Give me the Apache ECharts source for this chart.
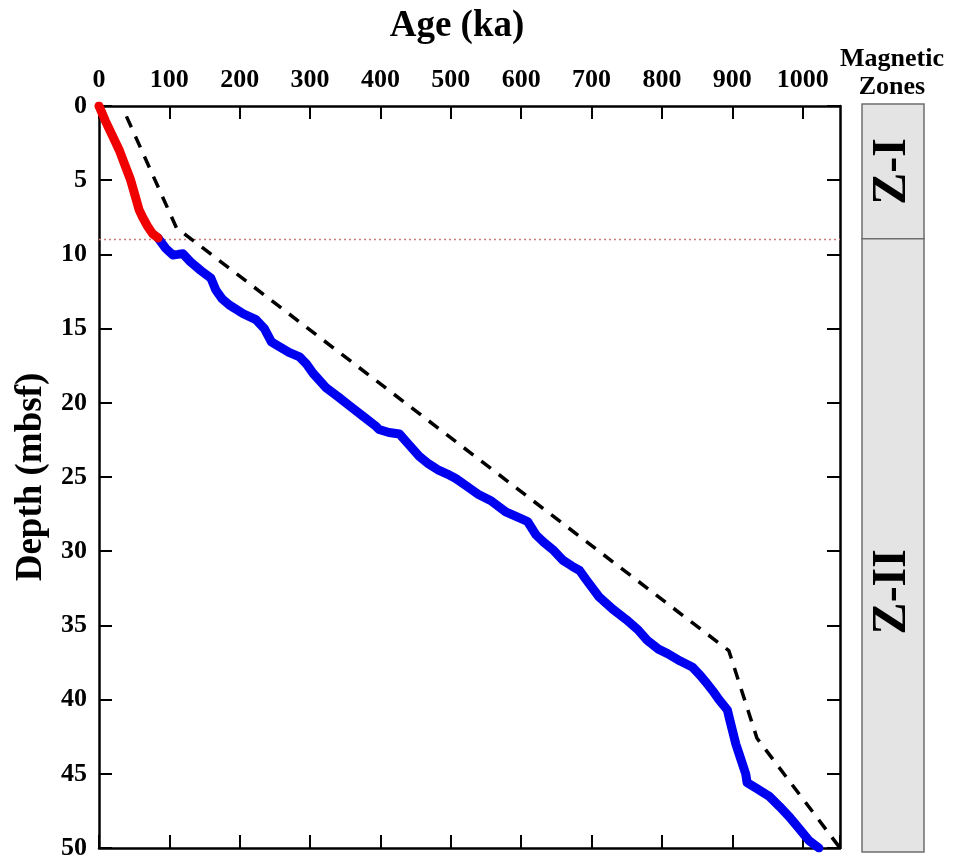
<!DOCTYPE html>
<html>
<head>
<meta charset="utf-8">
<script src="https://cdn.jsdelivr.net/npm/echarts@6/dist/echarts.min.js"></script>
<style>
  html, body { margin: 0; padding: 0; background: #fff; }
  #chart { width: 956px; height: 867px; }
</style>
</head>
<body>
<div id="chart"></div>
<script>
// upper part of the age model (zone Z-I)
const redAge = [0, 9, 19, 29, 37, 45, 51, 57, 62, 69, 76, 84]
const redDepth = [0, 1, 2, 3, 4, 5, 6, 7, 7.5, 8.1, 8.6, 8.9]

// lower part (zone Z-II)
const blueAge = [84, 86, 95, 105, 112, 119, 130, 145, 159, 166, 175, 185, 205, 223, 235, 245, 252, 270, 285, 295,
  304, 323, 340, 356, 375, 394, 398, 412, 427, 440, 455, 468, 481, 495, 507, 522, 540, 557, 578, 595,
  609, 621, 632, 645, 659, 672, 683, 692, 711, 730, 749, 766, 779, 795, 808, 826, 843, 855, 862, 872,
  881, 893, 896, 900, 905, 912, 919, 921, 935, 952, 967, 981, 995, 1009, 1023]
const blueDepth = [8.9, 9.03, 9.6, 10.04, 10.0, 9.95, 10.5, 11.1, 11.6, 12.4, 13.0, 13.4, 14.0, 14.4, 15.0, 15.9, 16.1, 16.6, 16.9, 17.4,
  18.0, 19.0, 19.6, 20.2, 20.9, 21.6, 21.8, 22.0, 22.1, 22.8, 23.6, 24.1, 24.5, 24.8, 25.1, 25.6, 26.2, 26.6, 27.35, 27.7,
  28.0, 28.9, 29.4, 29.9, 30.6, 31.0, 31.3, 31.9, 33.1, 33.9, 34.6, 35.3, 36.0, 36.6, 36.9, 37.4, 37.8, 38.4, 38.8, 39.4,
  40.0, 40.7, 41.3, 42.05, 43.0, 44.0, 45.0, 45.6, 46.0, 46.5, 47.2, 47.9, 48.7, 49.5, 50.0]

// dashed reference line
const dashAge = [39, 110, 895, 935, 1053]
const dashDepth = [0.7, 8.2, 36.7, 42.6, 50]

// zone boundary
const boundaryDepth = 9

// magnetic zones column
const zoneNames = ['Z-I', 'Z-II']
const zoneTop = [0, 9]
const zoneBottom = [9, 50]
const zoneLabelDepth = [4.5, 32.6]

const ageMax = 1053
const depthMax = 50

const pairs = (xs, ys) => xs.map((x, i) => [x, ys[i]])

const font = 'Liberation Serif'
const myChart = echarts.init(document.getElementById('chart'))

const axisLine = { onZero: false, lineStyle: { color: '#000', width: 2.5 } }
const axisTick = { inside: true, length: 13, lineStyle: { color: '#000', width: 2 } }
const tickLabel = { fontFamily: font, fontWeight: 'bold', fontSize: 26, color: '#000' }

let option = {
  animation: false,
  title: [
    {
      text: 'Age (ka)', left: 452, top: 3, textAlign: 'center',
      textStyle: { fontFamily: font, fontWeight: 'bold', fontSize: 37, color: '#000' }
    },
    {
      text: 'Magnetic\nZones', left: 887, top: 40, textAlign: 'center',
      textStyle: { fontFamily: font, fontWeight: 'bold', fontSize: 26, lineHeight: 28, color: '#000' }
    }
  ],
  grid: [
    { left: 99, top: 106, width: 741, height: 742 },
    { left: 862, top: 104, width: 62, height: 748 }
  ],
  xAxis: [
    {
      gridIndex: 0, type: 'value', position: 'top', min: 0, max: ageMax, interval: 100,
      axisLine: axisLine, axisTick: axisTick, splitLine: { show: false },
      axisLabel: Object.assign({ margin: 13, showMaxLabel: false,
        formatter: v => (v % 100 === 0 ? v : '') }, tickLabel)
    },
    {
      gridIndex: 0, type: 'value', position: 'bottom', min: 0, max: ageMax, interval: 100,
      axisLine: axisLine, axisTick: axisTick, splitLine: { show: false },
      axisLabel: { show: false }
    },
    { gridIndex: 1, type: 'value', min: 0, max: 1, show: false }
  ],
  yAxis: [
    {
      gridIndex: 0, type: 'value', inverse: true, min: 0, max: depthMax, interval: 5,
      axisLine: axisLine, axisTick: axisTick, splitLine: { show: false },
      axisLabel: Object.assign({ margin: 12 }, tickLabel),
      name: 'Depth (mbsf)', nameLocation: 'middle', nameGap: 40, nameRotate: 90,
      nameTextStyle: { fontFamily: font, fontWeight: 'bold', fontSize: 37, color: '#000' }
    },
    {
      gridIndex: 0, type: 'value', position: 'right', inverse: true, min: 0, max: depthMax, interval: 5,
      axisLine: axisLine, axisTick: axisTick, splitLine: { show: false },
      axisLabel: { show: false }
    },
    { gridIndex: 1, type: 'value', inverse: true, min: 0, max: depthMax, show: false }
  ],
  series: [
    {
      name: 'boundary', type: 'line', xAxisIndex: 0, yAxisIndex: 0, z: 1,
      data: [[0, boundaryDepth], [ageMax, boundaryDepth]],
      symbol: 'none', lineStyle: { color: '#cc7a7a', width: 1.5, type: [2, 3] }
    },
    {
      name: 'reference', type: 'line', xAxisIndex: 0, yAxisIndex: 0, z: 2,
      data: pairs(dashAge, dashDepth),
      symbol: 'none', lineStyle: { color: '#000', width: 3.5, type: [12, 10] }
    },
    {
      name: 'Z-II', type: 'line', xAxisIndex: 0, yAxisIndex: 0, z: 3,
      data: pairs(blueAge, blueDepth),
      symbol: 'none', lineStyle: { color: '#0000f0', width: 9, cap: 'round', join: 'round' }
    },
    {
      name: 'Z-I', type: 'line', xAxisIndex: 0, yAxisIndex: 0, z: 4,
      data: pairs(redAge, redDepth),
      symbol: 'none', lineStyle: { color: '#f00000', width: 9, cap: 'round', join: 'round' }
    },
    {
      name: 'zones', type: 'custom', xAxisIndex: 2, yAxisIndex: 2,
      data: zoneNames.map((n, i) => [zoneTop[i], zoneBottom[i], zoneLabelDepth[i]]),
      renderItem: function (params, api) {
        const p0 = api.coord([0, api.value(0)])
        const p1 = api.coord([1, api.value(1)])
        const pl = api.coord([0.5, api.value(2)])
        return {
          type: 'group',
          children: [
            {
              type: 'rect',
              shape: { x: p0[0], y: p0[1], width: p1[0] - p0[0], height: p1[1] - p0[1] },
              style: { fill: '#e4e4e4', stroke: '#6e6e6e', lineWidth: 1.5 }
            },
            {
              type: 'text', x: pl[0], y: pl[1], rotation: Math.PI / 2,
              style: {
                text: zoneNames[params.dataIndex], fill: '#000',
                font: 'bold 48px "Liberation Serif"', align: 'center', verticalAlign: 'middle'
              }
            }
          ]
        }
      }
    }
  ]
};

myChart.setOption(option);
</script>
</body>
</html>
